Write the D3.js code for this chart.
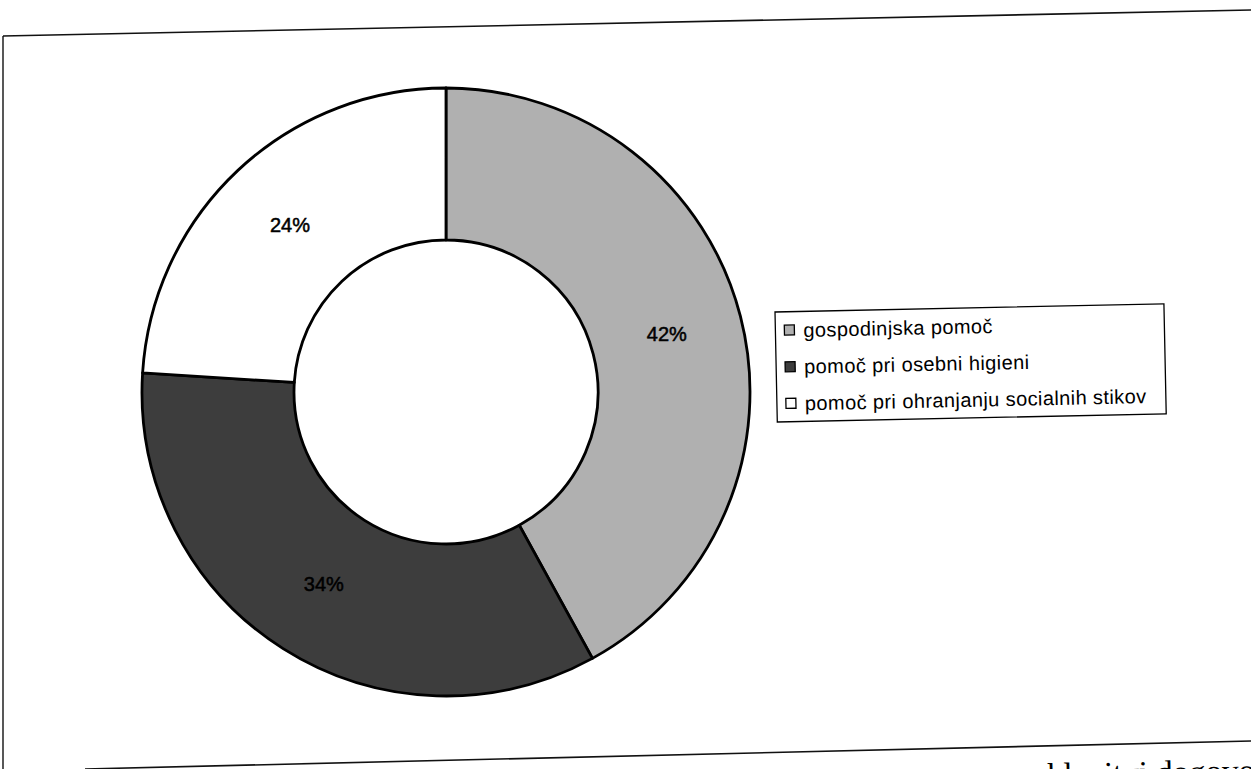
<!DOCTYPE html>
<html>
<head>
<meta charset="utf-8">
<script src="https://cdn.jsdelivr.net/npm/d3@7"></script>
<style>
  html, body { margin: 0; padding: 0; background: #fff; }
  svg { display: block; }
</style>
</head>
<body>
<svg id="chart" width="1251" height="769"></svg>
<script>
// ---- data ----
const categories = ["gospodinjska pomoč", "pomoč pri osebni higieni", "pomoč pri ohranjanju socialnih stikov"];
const values = [42, 34, 24];
const labels = ["42%", "34%", "24%"];
const fills = ["#b0b0b0", "#3d3d3d", "#ffffff"];
const footerText = "sklenitvi dogovora";

const svg = d3.select("#chart");

// ---- skewed scan frame ----
svg.append("line").attr("x1", 3).attr("y1", 36).attr("x2", 1251).attr("y2", 10)
  .attr("stroke", "#111").attr("stroke-width", 1.6);
svg.append("line").attr("x1", 3).attr("y1", 36).attr("x2", 3).attr("y2", 769)
  .attr("stroke", "#111").attr("stroke-width", 1.4);
svg.append("line").attr("x1", 85).attr("y1", 769).attr("x2", 1251).attr("y2", 741)
  .attr("stroke", "#111").attr("stroke-width", 1.6);

// ---- donut ----
const cx = 446, cy = 392, rOuter = 304, rInner = 152;
const pie = d3.pie().value(d => d).sort(null);
const arcs = pie(values);
const arc = d3.arc().innerRadius(rInner).outerRadius(rOuter);

const g = svg.append("g").attr("transform", `translate(${cx},${cy})`);
g.selectAll("path.slice").data(arcs).enter().append("path")
  .attr("class", "slice")
  .attr("d", arc)
  .attr("fill", (d, i) => fills[i])
  .attr("stroke", "#000")
  .attr("stroke-width", 2.8)
  .attr("stroke-linejoin", "round");

g.selectAll("text.lbl").data(arcs).enter().append("text")
  .attr("class", "lbl")
  .attr("transform", d => `translate(${arc.centroid(d)})`)
  .attr("text-anchor", "middle")
  .attr("dy", "0.3em")
  .attr("font-family", "Liberation Sans, Arial, sans-serif")
  .attr("font-size", 20)
  .attr("fill", "#000")
  .attr("stroke", "#000")
  .attr("stroke-width", 0.5)
  .text((d, i) => labels[i]);

// ---- legend ----
const leg = svg.append("g").attr("transform", "translate(775,312) rotate(-1.2)");
leg.append("rect").attr("x", 0).attr("y", 0).attr("width", 389).attr("height", 110)
  .attr("fill", "#fff").attr("stroke", "#000").attr("stroke-width", 1.3);
const rowY = d3.scaleBand().domain(categories).range([0, 110]).paddingInner(0);
const items = leg.selectAll("g.item").data(categories).enter().append("g")
  .attr("class", "item")
  .attr("transform", d => `translate(0,${rowY(d) + rowY.bandwidth() / 2})`);
items.append("rect").attr("x", 9).attr("y", -5).attr("width", 10).attr("height", 10)
  .attr("fill", (d, i) => fills[i]).attr("stroke", "#000").attr("stroke-width", 1.3);
items.append("text").attr("x", 28).attr("y", 0).attr("dy", "0.36em")
  .attr("font-family", "Liberation Sans, Arial, sans-serif")
  .attr("font-size", 20)
  .attr("letter-spacing", 0.4)
  .attr("fill", "#000")
  .text(d => d);

// ---- cut-off footer text (scanned page) ----
svg.append("text")
  .attr("x", 1281).attr("y", 781)
  .attr("text-anchor", "end")
  .attr("transform", "rotate(-1.2,1281,781)")
  .attr("font-family", "Liberation Serif, Times New Roman, serif")
  .attr("font-size", 33)
  .attr("fill", "#000")
  .text(footerText);
</script>
</body>
</html>
